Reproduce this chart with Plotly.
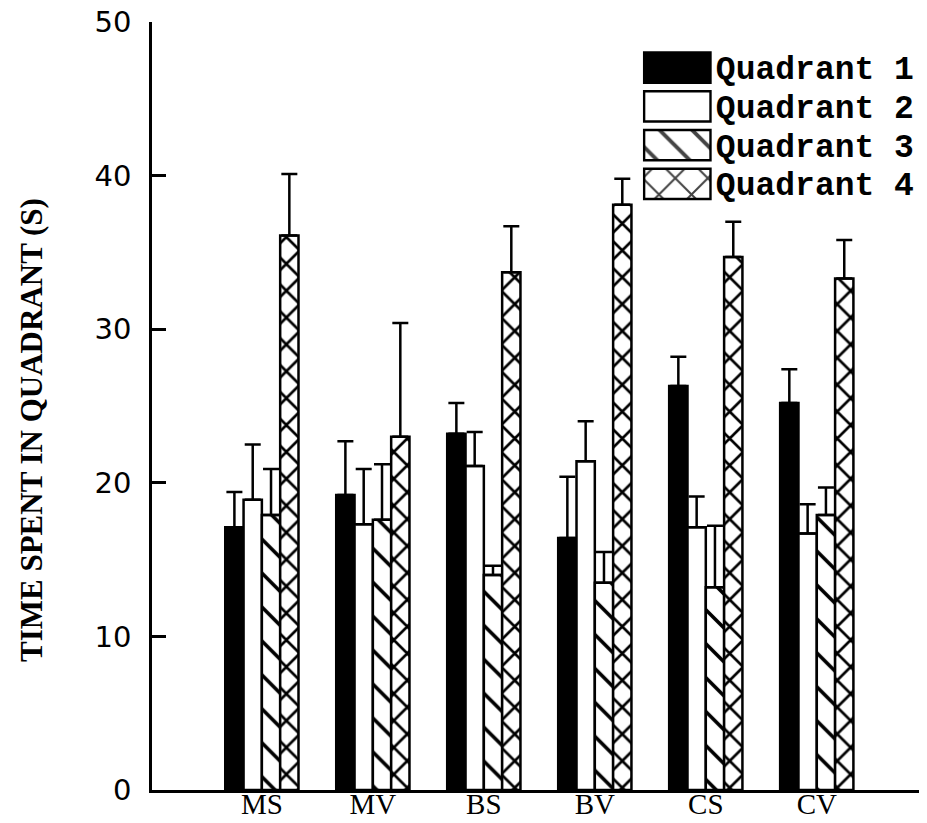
import plotly.graph_objects as go

groups = ["MS", "MV", "BS", "BV", "CS", "CV"]
series_names = ["Quadrant 1", "Quadrant 2", "Quadrant 3", "Quadrant 4"]
y_title = "TIME SPENT IN QUADRANT (S)"

q1 = [17.1, 19.2, 23.2, 16.4, 26.3, 25.2]
q1_err = [2.3, 3.5, 2.0, 4.0, 1.9, 2.2]
q2 = [18.9, 17.3, 21.1, 21.4, 17.1, 16.7]
q2_err = [3.6, 3.6, 2.2, 2.6, 2.0, 1.9]
q3 = [17.9, 17.6, 14.0, 13.5, 13.2, 17.9]
q3_err = [3.0, 3.6, 0.6, 2.0, 4.0, 1.8]
q4 = [36.1, 23.0, 33.7, 38.1, 34.7, 33.3]
q4_err = [4.0, 7.4, 3.0, 1.7, 2.3, 2.5]

values = [q1, q2, q3, q4]
errors = [q1_err, q2_err, q3_err, q4_err]
fills = ["black", "white", "white", "white"]
patterns = ["", "", "\\", "x"]
pattern_sizes = [10, 10, 24, 19]
pattern_solid = [0.2, 0.2, 0.15, 0.26]

y_ticks = [0, 10, 20, 30, 40, 50]

fig = go.Figure()
for name, vals, errs, col, pat, psz, sol in zip(series_names, values, errors, fills,
                                                patterns, pattern_sizes, pattern_solid):
    fig.add_trace(go.Bar(
        x=groups, y=vals, name=name, showlegend=False,
        marker=dict(color=col, line=dict(color="black", width=2.5),
                    pattern=dict(shape=pat, fgcolor="black", fgopacity=1,
                                 size=psz, solidity=sol)),
        error_y=dict(type="data", symmetric=False, array=errs,
                     arrayminus=[0] * len(errs), color="black",
                     thickness=2.5, width=8),
    ))

# legend drawn as a small inset of swatch bars with the names as tick labels
fig.add_trace(go.Bar(
    x=[1, 1, 1, 1], y=series_names, orientation="h", xaxis="x2", yaxis="y2",
    showlegend=False, width=0.78,
    marker=dict(color=fills, line=dict(color="black", width=2.5),
                pattern=dict(shape=patterns, fgcolor="black", fgopacity=1,
                             size=23, solidity=0.17)),
))

fig.add_annotation(
    text=y_title, xref="paper", yref="paper", x=-0.156, y=0.469,
    xanchor="center", yanchor="middle", textangle=-90, showarrow=False,
    font=dict(family="Liberation Serif", size=31, color="black", weight="bold"),
)

fig.update_layout(
    width=919, height=815,
    margin=dict(l=144, r=7, t=14, b=33),
    paper_bgcolor="white", plot_bgcolor="white",
    barmode="group", bargap=0.34, bargroupgap=0.0,
    xaxis=dict(
        range=[-0.99, 5.93], showline=True, linecolor="black", linewidth=2.5,
        ticks="", ticklen=0, showgrid=False, zeroline=False, automargin=False,
        tickfont=dict(family="Liberation Serif", size=29, color="black"),
        ticklabelstandoff=-14, ticklabeloverflow="allow",
    ),
    yaxis=dict(
        range=[0, 50], tickvals=y_ticks, showline=True, linecolor="black",
        linewidth=2.5, ticks="inside", ticklen=14, tickwidth=2.5, tickcolor="black",
        showgrid=False, zeroline=False, automargin=False,
        tickfont=dict(family="DejaVu Sans", size=29, color="black"),
        ticklabelstandoff=12, ticklabeloverflow="allow",
    ),
    xaxis2=dict(domain=[0.639, 0.729], range=[-0.02, 1.02], anchor="y2",
                visible=False, automargin=False),
    yaxis2=dict(domain=[0.764, 0.966], anchor="x2", side="right", type="category",
                tickmode="array", tickvals=series_names, ticktext=series_names,
                autorange="reversed", ticks="", showgrid=False, showline=False,
                zeroline=False, ticklabelstandoff=3, automargin=False,
                ticklabeloverflow="allow",
                tickfont=dict(family="Liberation Mono", size=33, color="black",
                              weight="bold")),
)

fig.write_html("out.html")
